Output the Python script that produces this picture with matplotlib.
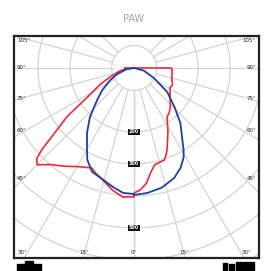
import numpy as np
import matplotlib
matplotlib.use("Agg")
import matplotlib.pyplot as plt
from matplotlib.patches import Rectangle

# luminous intensity (cd), angle from nadir in degrees
blue_left_ang = [0, 5, 10, 17, 22, 27, 30, 36, 42, 49, 55, 63, 70, 80, 90]
blue_left_cd = [394, 392, 378, 359, 350, 322, 294, 250, 206, 153, 122, 84, 56, 25, 0]
blue_right_ang = [0, 6, 13, 20, 25, 29, 31, 40, 46, 54, 63, 75, 90]
blue_right_cd = [397, 393, 384, 366, 344, 319, 300, 225, 175, 128, 70, 31, 0]

red_left_ang = [0, 5, 10, 15, 20, 23, 30, 35, 41, 45, 47, 48.5, 50, 54, 58, 64, 70, 78, 84, 90]
red_left_cd = [403, 405, 388, 366, 350, 339, 356, 375, 400, 428, 416, 384, 338, 259, 172, 119, 78, 47, 28, 28]
red_right_ang = [0, 3, 6, 9, 12, 18, 20, 22, 28, 34, 38, 43, 50, 61, 66, 75, 88, 90]
red_right_cd = [391, 381, 363, 331, 309, 303, 291, 275, 225, 184, 178, 166, 147, 128, 131, 122, 119, 115]

rings = [70, 200, 300, 400, 500, 600, 700]
ring_labels = {200: "200", 300: "300", 500: "500"}
spokes = [0, 15, 30, 45, 60, 75, 90, 105, 120, 135]
left_labels = [("105°", 41), ("90°", 68), ("75°", 98), ("60°", 131), ("45°", 178)]
bottom_labels = [("30°", 22), ("15°", 84), ("0°", 134)]


def side(ang, cd, sign):
    a = np.radians(ang)
    cd = np.array(cd, dtype=float)
    return sign * cd * np.sin(a), -cd * np.cos(a)


fig = plt.figure(figsize=(2.68, 2.71), dpi=100)
ax = fig.add_axes([14 / 268, 13 / 271, 245 / 268, 222 / 271])
ax.set_xlim(-375, 390)
ax.set_ylim(-594, 100)
ax.set_xticks([])
ax.set_yticks([])
for s in ax.spines.values():
    s.set_linewidth(1.6)
    s.set_color("#222222")

grid = "#d4d4d4"
t = np.linspace(0, 2 * np.pi, 400)
for r in rings:
    ax.plot(r * np.cos(t), r * np.sin(t), color=grid, lw=0.9, zorder=1)
for sp in spokes:
    a = np.radians(sp)
    for sg in (-1, 1):
        ax.plot([sg * rings[0] * np.sin(a), sg * 900 * np.sin(a)],
                [-rings[0] * np.cos(a), -900 * np.cos(a)], color=grid, lw=0.9, zorder=1)

for r, lab in ring_labels.items():
    ax.text(0, -r, lab, fontsize=3.5, color="white", ha="center", va="center",
            fontweight="bold", zorder=5,
            bbox=dict(boxstyle="square,pad=0.15", fc="#111111", ec="none"))

# red curve, closed across the top
xl, yl = side(red_left_ang, red_left_cd, -1)
xr, yr = side(red_right_ang, red_right_cd, 1)
ax.plot(np.concatenate([xl[::-1], xr, xl[-1:]]), np.concatenate([yl[::-1], yr, yl[-1:]]),
        color="#f0283a", lw=1.2, zorder=3)
xl, yl = side(blue_left_ang, blue_left_cd, -1)
xr, yr = side(blue_right_ang, blue_right_cd, 1)
ax.plot(np.concatenate([xl[::-1], xr]), np.concatenate([yl[::-1], yr]),
        color="#1f3f9f", lw=1.3, zorder=4)

for lab, y in left_labels:
    fig.text(17 / 268, 1 - y / 271, lab, fontsize=4, ha="left", va="center", color="#222222")
    fig.text(256 / 268, 1 - y / 271, lab, fontsize=4, ha="right", va="center", color="#222222")
for lab, x in bottom_labels:
    fig.text(x / 268, 1 - 253 / 271, lab, fontsize=4, ha="center", va="center", color="#222222")
    if x != 134:
        fig.text((268 - x) / 268, 1 - 253 / 271, lab, fontsize=4, ha="center", va="center", color="#222222")

fig.text(0.5, 1 - 19 / 271, "PAW", fontsize=7, color="#a0a0a0", ha="center", va="center")

# cut-off legend symbols under the frame
for x0, y0, w, h in [(17, 264, 24, 8), (25, 261, 8, 3), (223, 263, 4, 8), (229, 264, 5, 7), (236, 262, 18, 9)]:
    fig.patches.append(Rectangle((x0 / 268, 1 - (y0 + h) / 271), w / 268, h / 271,
                                 transform=fig.transFigure, color="black"))

fig.savefig("out.png", dpi=100)
